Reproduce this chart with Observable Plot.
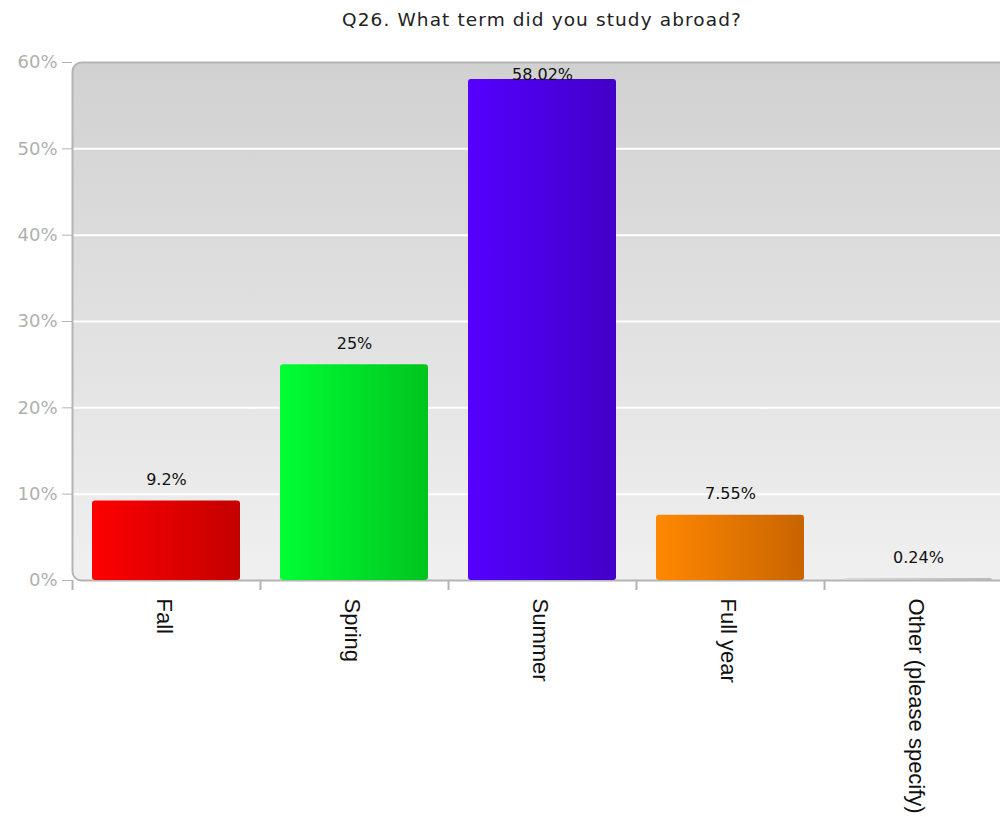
<!DOCTYPE html>
<html>
<head>
<meta charset="utf-8">
<script src="https://cdn.jsdelivr.net/npm/d3@7"></script>
<script src="https://cdn.jsdelivr.net/npm/@observablehq/plot@0.6"></script>
<style>
  html, body { margin: 0; padding: 0; background: #fff; overflow: hidden; }
  #wrap { width: 1000px; height: 817px; overflow: hidden; position: relative; }
  #title { height: 40px; line-height: 40px; width: 940px; padding-left: 72px; text-align: center;
           font-family: "DejaVu Sans", sans-serif; font-size: 18.5px; color: #222; white-space: nowrap; letter-spacing: 1.1px; }
  #chart { width: 1012px; }
  #chart svg { display: block; max-width: none !important; }
</style>
</head>
<body>
<div id="wrap">
  <div id="title">Q26. What term did you study abroad?</div>
  <div id="chart"></div>
</div>
<script>
const categories = ["Fall", "Spring", "Summer", "Full year", "Other (please specify)"];
const values = [9.2, 25, 58.02, 7.55, 0.24];
const valueLabels = ["9.2%", "25%", "58.02%", "7.55%", "0.24%"];
const yTicks = [0, 10, 20, 30, 40, 50, 60];
const colorsLight = ["#ff0000", "#00ff33", "#5500ff", "#ff8800", "#d8d8d8"];
const colorsDark = ["#c40000", "#00c41e", "#4200c8", "#c86400", "#b8b8b8"];

const data = categories.map((c, i) => ({
  category: c, value: values[i], label: valueLabels[i], grad: `url(#bar-grad-${i})`
}));

function defs() {
  const d = d3.create("svg:defs");
  const bg = d.append("linearGradient").attr("id", "bg-grad").attr("x1", 0).attr("y1", 0).attr("x2", 0).attr("y2", 1);
  bg.append("stop").attr("offset", "0%").attr("stop-color", "#d1d1d1");
  bg.append("stop").attr("offset", "100%").attr("stop-color", "#f0f0f0");
  categories.forEach((c, i) => {
    const g = d.append("linearGradient").attr("id", `bar-grad-${i}`).attr("x1", 0).attr("y1", 0).attr("x2", 1).attr("y2", 0);
    g.append("stop").attr("offset", "0%").attr("stop-color", colorsLight[i]);
    g.append("stop").attr("offset", "100%").attr("stop-color", colorsDark[i]);
  });
  return d.node();
}

const chart = Plot.plot({
  width: 1012,
  height: 777,
  marginTop: 22,
  marginBottom: 237,
  marginLeft: 72,
  marginRight: 0,
  style: { fontFamily: "DejaVu Sans, sans-serif", background: "transparent", overflow: "visible", maxWidth: "none" },
  x: { domain: categories, paddingInner: 0.213, paddingOuter: 0.1065, axis: null },
  y: { domain: [0, 60], axis: null },
  color: { type: "identity" },
  marks: [
    defs,
    Plot.frame({ fill: "url(#bg-grad)", stroke: null, rx: 9 }),
    Plot.ruleY([10, 20, 30, 40, 50], { stroke: "#ffffff", strokeWidth: 2 }),
    Plot.frame({ stroke: "#b4b4b4", strokeWidth: 2, rx: 9 }),
    Plot.barY(data, { x: "category", y: "value", fill: "grad", rx: 3 }),
    Plot.text(data, {
      x: "category", y: d => Math.min(d.value, 56.1), text: "label", dy: -21,
      fill: "#111", fontSize: 16, letterSpacing: 1.2, fontWeight: 500
    }),
    Plot.axisY({
      ticks: yTicks, tickFormat: d => d + "%", tickSize: 10, tickPadding: 5,
      stroke: "#b4b4b4", fill: "#b0b0b0", fontSize: 18, label: null
    }),
    Plot.ruleX(categories, { x: d => d, dx: -94, insetTop: 518, insetBottom: -10, stroke: "#b4b4b4", strokeWidth: 2 }),
    Plot.text(categories, {
      x: d => d, y: 0, text: d => d, rotate: 90, textAnchor: "start", dy: 18, dx: -2,
      fill: "#111", fontSize: 22, fontFamily: "Liberation Sans, Arial, sans-serif"
    })
  ]
});
document.getElementById("chart").appendChild(chart);
</script>
</body>
</html>
